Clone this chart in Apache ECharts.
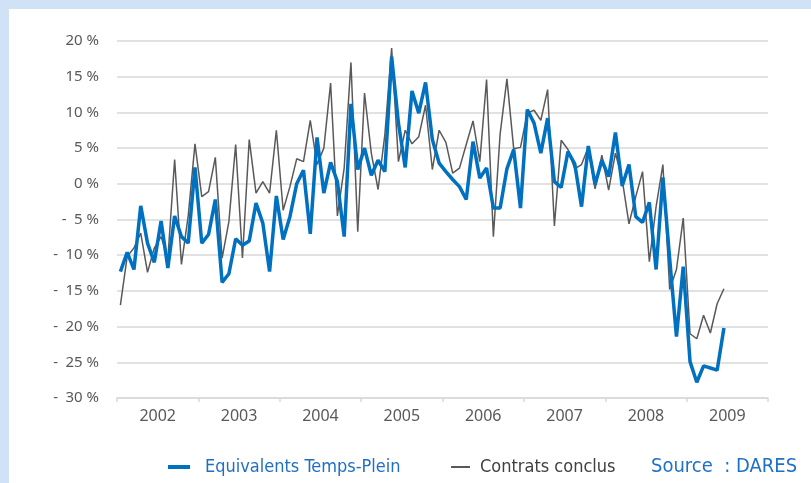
<!DOCTYPE html>
<html>
<head>
<meta charset="utf-8">
<script src="https://cdn.jsdelivr.net/npm/echarts@6/dist/echarts.min.js"></script>
<style>
html,body{margin:0;padding:0;background:#fff;}
#c{width:811px;height:483px;}
</style>
</head>
<body>
<div id="c"></div>
<script>
var years = ['2002','2003','2004','2005','2006','2007','2008','2009'];
var monthNames = ['01','02','03','04','05','06','07','08','09','10','11','12'];
var months = [];
years.forEach(function(y){ monthNames.forEach(function(m){ months.push(y + '-' + m); }); });

var etp = [
 -12.3, -9.6, -12.0, -3.1, -8.3, -11.0, -5.2, -11.8, -4.5, -7.4, -8.3, 2.3,
 -8.3, -7.1, -2.2, -13.8, -12.6, -7.7, -8.6, -8.0, -2.7, -5.5, -12.3, -1.7,
 -7.8, -4.6, 0.0, 1.9, -7.0, 6.5, -1.3, 3.0, 0.3, -7.4, 11.2, 2.0,
 5.0, 1.2, 3.3, 1.7, 17.8, 8.5, 2.3, 13.0, 9.9, 14.2, 6.2, 2.9,
 1.7, 0.6, -0.4, -2.2, 5.9, 0.8, 2.2, -3.4, -3.4, 2.1, 4.8, -3.4,
 10.4, 8.5, 4.3, 9.2, 0.3, -0.5, 4.5, 2.8, -3.2, 5.3, -0.1, 3.3,
 1.0, 7.2, -0.3, 2.7, -4.6, -5.4, -2.6, -12.0, 0.9, -10.5, -21.4, -11.6,
 -24.9, -27.8, -25.5, -25.8, -26.1, -20.2
];
var contrats = [
 -17.0, -10.2, -9.0, -6.9, -12.4, -9.0, -7.4, -10.5, 3.4, -11.3, -4.5, 5.6,
 -1.8, -1.1, 3.7, -10.4, -5.3, 5.5, -10.4, 6.2, -1.3, 0.3, -1.3, 7.5,
 -3.7, -0.4, 3.5, 3.1, 8.9, 2.7, 5.0, 14.1, -4.5, 2.2, 17.0, -6.7,
 12.7, 4.3, -0.8, 6.9, 19.0, 3.1, 7.5, 5.6, 6.6, 11.0, 2.0, 7.5,
 5.8, 1.5, 2.2, 5.5, 8.8, 3.1, 14.6, -7.4, 7.0, 14.7, 4.9, 5.1,
 9.9, 10.3, 8.9, 13.2, -5.9, 6.1, 4.8, 2.1, 2.7, 5.1, -0.7, 4.0,
 -0.9, 4.3, 0.6, -5.6, -1.8, 1.7, -10.9, -3.2, 2.7, -14.8, -12.0, -4.8,
 -21.0, -21.7, -18.4, -20.9, -16.8, -14.7
];

var chart = echarts.init(document.getElementById('c'), null, {renderer:'canvas'});
var labelFont = 'Noto Sans';
var legendFont = '"DejaVu Sans Condensed", "DejaVu Sans"';
chart.setOption({
  backgroundColor: '#ffffff',
  animation: false,
  graphic: [
    {type:'rect', left:0, top:0, shape:{width:811, height:9}, style:{fill:'#cfe2f6'}, silent:true},
    {type:'rect', left:0, top:0, shape:{width:9, height:483}, style:{fill:'#cfe2f6'}, silent:true},
    {type:'text', left:651, top:457, style:{text:'Source  : DARES', fill:'#1f70c8', font:'20px ' + legendFont}}
  ],
  legend: [
    {left:168, top:458, padding:0, itemWidth:22, itemHeight:4, icon:'rect', itemGap:0,
     data:[{name:'Equivalents Temps-Plein', textStyle:{color:'#1f6fc5'}}],
     textStyle:{fontSize:18, fontFamily:legendFont, padding:[0,0,0,10]}},
    {left:451, top:458, padding:0, itemWidth:19, itemHeight:2, icon:'rect', itemGap:0,
     data:[{name:'Contrats conclus', textStyle:{color:'#404040'}}],
     textStyle:{fontSize:18, fontFamily:legendFont, padding:[0,0,0,5]}}
  ],
  grid: {left:117, right:43, top:41, bottom:85, containLabel:false},
  xAxis: [
    {type:'category', data:months, boundaryGap:true, show:false},
    {type:'category', data:years, boundaryGap:true, position:'bottom',
     axisLine:{show:true, lineStyle:{color:'#d9d9d9', width:1.5}},
     axisTick:{show:true, length:4, lineStyle:{color:'#d9d9d9', width:1.5}},
     axisLabel:{color:'#595959', fontSize:16, fontFamily:labelFont, margin:10},
     splitLine:{show:false}}
  ],
  yAxis: {
    type:'value', min:-30, max:20, interval:5,
    axisLine:{show:false}, axisTick:{show:false},
    splitLine:{lineStyle:{color:'#d9d9d9', width:1.5}},
    axisLabel:{color:'#595959', fontSize:15, fontFamily:labelFont, margin:18,
      formatter:function(v){ return v < 0 ? '-\u2002' + Math.abs(v) + ' %' : v + ' %'; }}
  },
  series: [
    {name:'Equivalents Temps-Plein', type:'line', xAxisIndex:0, data:etp, symbol:'none',
     lineStyle:{color:'#0070c0', width:3.5}, itemStyle:{color:'#0070c0'}, z:3},
    {name:'Contrats conclus', type:'line', xAxisIndex:0, data:contrats, symbol:'none',
     lineStyle:{color:'#595959', width:1.5}, itemStyle:{color:'#595959'}, z:2}
  ]
});
</script>
</body>
</html>
